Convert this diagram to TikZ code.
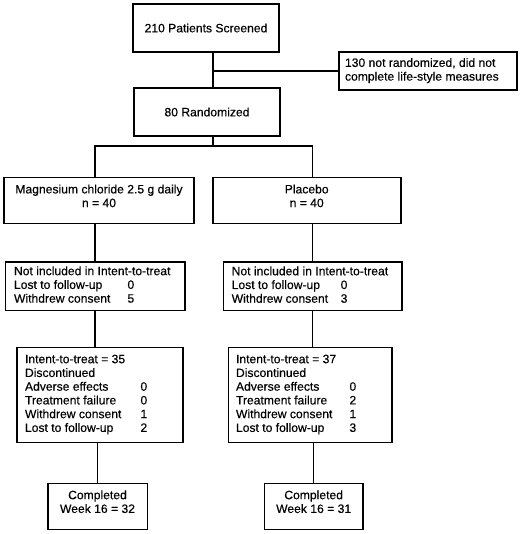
\documentclass[tikz,border=0pt]{standalone}
\usepackage{fontspec}
\setmainfont{Liberation Sans}[FakeBold=0.35]
\newlength\pxl \setlength\pxl{0.75pt}
\newcommand\fs{\fontsize{9.1pt}{10.3pt}\selectfont}
\newcommand\liftup[2]{\raisebox{0pt}[\height][\dimexpr\depth+#1\relax]{#2}}
\newcommand\lpad[3]{\makebox[#1][l]{\hspace*{#2}#3}}
\begin{document}
\begin{tikzpicture}[x=0.75pt,y=-0.75pt,
  box/.style={draw, line width=1.2pt, inner sep=0pt, outer sep=0pt, anchor=north west, font=\fs},
  link/.style={line width=1.2pt}]
\useasboundingbox (0,0) rectangle (520,534);
\node[box, minimum width=146\pxl, minimum height=48\pxl] (b1) at (133,4) {210 Patients Screened};
\node[box, minimum width=178\pxl, minimum height=38\pxl] (side) at (339,52)
  {\lpad{178\pxl}{6\pxl}{\begin{tabular}{@{}l@{}}130 not randomized, did not\\complete life-style measures\end{tabular}}};
\node[box, minimum width=146\pxl, minimum height=48\pxl] (b2) at (134,88) {80 Randomized};
\node[box, minimum width=190\pxl, minimum height=46\pxl] (mg) at (4,177.5)
  {\liftup{6\pxl}{\begin{tabular}{@{}c@{}}Magnesium chloride 2.5 g daily\\n = 40\end{tabular}}};
\node[box, minimum width=188\pxl, minimum height=46\pxl] (plac) at (212.7,177.5)
  {\liftup{6\pxl}{\begin{tabular}{@{}c@{}}Placebo\\n = 40\end{tabular}}};
\node[box, minimum width=179.4\pxl, minimum height=48.3\pxl] (b4l) at (5.3,262)
  {\lpad{179.4\pxl}{8.7\pxl}{\begin{tabular}{@{}p{113.5\pxl}@{}l@{}}\multicolumn{2}{@{}l@{}}{Not included in Intent-to-treat}\\Lost to follow-up&0\\Withdrew consent&5\end{tabular}}};
\node[box, minimum width=178.4\pxl, minimum height=48.5\pxl] (b4r) at (223.3,262)
  {\lpad{178.4\pxl}{8.4\pxl}{\begin{tabular}{@{}p{109\pxl}@{}l@{}}\multicolumn{2}{@{}l@{}}{Not included in Intent-to-treat}\\Lost to follow-up&0\\Withdrew consent&3\end{tabular}}};
\node[box, minimum width=166\pxl, minimum height=95\pxl] (b5l) at (16.7,347.3)
  {\lpad{166\pxl}{8.3\pxl}{\begin{tabular}{@{}p{115.5\pxl}@{}l@{}}\multicolumn{2}{@{}l@{}}{Intent-to-treat = 35}\\\multicolumn{2}{@{}l@{}}{Discontinued}\\Adverse effects&0\\Treatment failure&0\\Withdrew consent&1\\Lost to follow-up&2\end{tabular}}};
\node[box, minimum width=163.7\pxl, minimum height=95\pxl] (b5r) at (228.3,347.3)
  {\lpad{163.7\pxl}{7.7\pxl}{\begin{tabular}{@{}p{113.5\pxl}@{}l@{}}\multicolumn{2}{@{}l@{}}{Intent-to-treat = 37}\\\multicolumn{2}{@{}l@{}}{Discontinued}\\Adverse effects&0\\Treatment failure&2\\Withdrew consent&1\\Lost to follow-up&3\end{tabular}}};
\node[box, minimum width=99.6\pxl, minimum height=46\pxl] (b6l) at (47.7,483.3)
  {\liftup{6\pxl}{\begin{tabular}{@{}c@{}}Completed\\Week 16 = 32\end{tabular}}};
\node[box, minimum width=98.7\pxl, minimum height=46\pxl] (b6r) at (264.3,483.3)
  {\liftup{6\pxl}{\begin{tabular}{@{}c@{}}Completed\\Week 16 = 31\end{tabular}}};
\coordinate (trunk) at (212.7,146);
\draw[link] (b1.south -| trunk) -- (b2.north -| trunk);
\draw[link] (trunk |- side.west) -- (side.west);
\draw[link] (b2.south -| trunk) -- (trunk);
\draw[link] (b4l.north |- mg.north) -- (b4l.north |- trunk) -- (b4r.north |- trunk) -- (b4r.north |- plac.north);
\draw[link] (b4l.north |- mg.south) -- (b4l.north);
\draw[link] (b4r.north |- plac.south) -- (b4r.north);
\draw[link] (b4l.south) -- (b4l.south |- b5l.north);
\draw[link] (b4r.south) -- (b4r.south |- b5r.north);
\draw[link] (b6l.north |- b5l.south) -- (b6l.north);
\draw[link] (b6r.north |- b5r.south) -- (b6r.north);
\end{tikzpicture}
\end{document}
